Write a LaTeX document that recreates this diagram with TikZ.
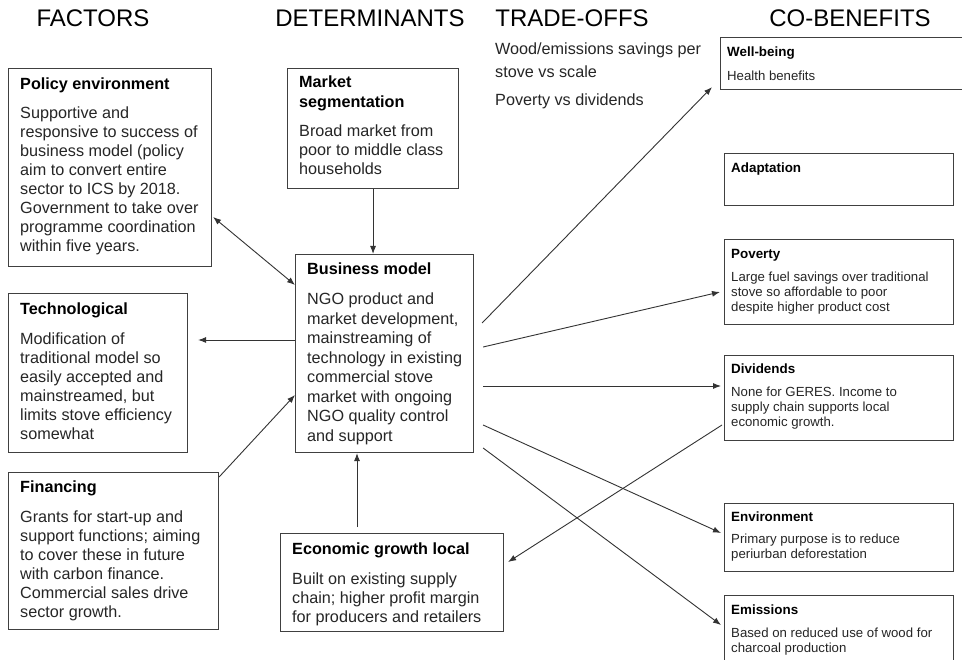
\documentclass[tikz,border=0pt]{standalone}
\usepackage{fontspec}
\setmainfont{Liberation Sans}
\usetikzlibrary{calc,arrows.meta}
\newcommand{\tlines}[1]{\begin{tabular}[t]{@{}l@{}}#1\end{tabular}}
\begin{document}
\begin{tikzpicture}[x=1pt,y=-1pt,
  boxL/.style={draw=black!75, line width=1.1pt, anchor=north west, inner sep=0pt},
  hdr/.style={anchor=base, inner sep=0pt, font=\fontsize{24}{28}\selectfont},
  ttlL/.style={anchor=base west, inner sep=0pt, font=\fontsize{16.2}{20}\selectfont\bfseries},
  bodyL/.style={anchor=base west, inner sep=0pt, font=\fontsize{16.2}{19}\selectfont, text=black!85},
  ttlR/.style={anchor=base west, inner sep=0pt, font=\fontsize{13.4}{15}\selectfont\bfseries},
  bodyR/.style={anchor=base west, inner sep=0pt, font=\fontsize{13.2}{15}\selectfont, text=black!85},
  arr/.style={draw=black!80, line width=0.9pt, -{Latex[length=8pt,width=6pt]}},
  darr/.style={draw=black!80, line width=0.9pt, {Latex[length=8pt,width=6pt]}-{Latex[length=8pt,width=6pt]}}
]
\useasboundingbox (0,0) rectangle (962,660);
\fill[white] (0,0) rectangle (962,660);

% headers
\node[hdr] (hF) at (93,27) {FACTORS};
\node[hdr] (hD) at (370,27) {DETERMINANTS};
\node[hdr] (hT) at (572,27) {TRADE-OFFS};
\node[hdr] (hC) at (850,27) {CO-BENEFITS};

% trade-offs text
\node[anchor=base west, inner sep=0pt, font=\fontsize{16.2}{23}\selectfont, text=black!85] (to1) at (495,55) {\tlines{Wood/emissions savings per\\stove vs scale}};
\node[anchor=base west, inner sep=0pt, font=\fontsize{16.2}{23}\selectfont, text=black!85] (to2) at (495,106) {Poverty vs dividends};

% left boxes
\node[boxL, minimum width=203pt, minimum height=198pt] (pol) at (8,68) {};
\node[ttlL] (polT) at (20,90) {Policy environment};
\node[bodyL] (polB) at (20,119) {\tlines{Supportive and\\responsive to success of\\business model (policy\\aim to convert entire\\sector to ICS by 2018.\\Government to take over\\programme coordination\\within five years.}};

\node[boxL, minimum width=179pt, minimum height=159pt] (tech) at (8,293) {};
\node[ttlL] (techT) at (20,315) {Technological};
\node[bodyL] (techB) at (20,345) {\tlines{Modification of\\traditional model so\\easily accepted and\\mainstreamed, but\\limits stove efficiency\\somewhat}};

\node[boxL, minimum width=210pt, minimum height=157pt] (fin) at (8,472) {};
\node[ttlL] (finT) at (20,493) {Financing};
\node[bodyL] (finB) at (20,522) {\tlines{Grants for start-up and\\support functions; aiming\\to cover these in future\\with carbon finance.\\Commercial sales drive\\sector growth.}};

% determinants
\node[boxL, minimum width=171pt, minimum height=120pt] (ms) at (287,68) {};
\node[ttlL] (msT) at (299,88) {\tlines{Market\\segmentation}};
\node[bodyL] (msB) at (299,137) {\tlines{Broad market from\\poor to middle class\\households}};

\node[boxL, minimum width=178pt, minimum height=198pt] (bm) at (295,254) {};
\node[ttlL] (bmT) at (307,275) {Business model};
\node[bodyL, font=\fontsize{16.2}{19.5}\selectfont] (bmB) at (307,305) {\tlines{NGO product and\\market development,\\mainstreaming of\\technology in existing\\commercial stove\\market with ongoing\\NGO quality control\\and support}};

\node[boxL, minimum width=223pt, minimum height=98pt] (econ) at (280,533) {};
\node[ttlL] (econT) at (292,554) {Economic growth local};
\node[bodyL] (econB) at (292,584) {\tlines{Built on existing supply\\chain; higher profit margin\\for producers and retailers}};

% co-benefits
\node[boxL, minimum width=246pt, minimum height=52pt] (wb) at (720,37) {};
\node[ttlR] (wbT) at (727,57) {Well-being};
\node[bodyR] (wbB) at (727,81) {Health benefits};

\node[boxL, minimum width=229pt, minimum height=52pt] (ad) at (724,153) {};
\node[ttlR] (adT) at (731,173) {Adaptation};

\node[boxL, minimum width=229pt, minimum height=85pt] (pov) at (724,239) {};
\node[ttlR] (povT) at (731,259) {Poverty};
\node[bodyR] (povB) at (731,282) {\tlines{Large fuel savings over traditional\\stove so affordable to poor\\despite higher product cost}};

\node[boxL, minimum width=229pt, minimum height=85pt] (div) at (724,355) {};
\node[ttlR] (divT) at (731,374) {Dividends};
\node[bodyR] (divB) at (731,397) {\tlines{None for GERES. Income to\\supply chain supports local\\economic growth.}};

\node[boxL, minimum width=229pt, minimum height=68pt] (env) at (724,503) {};
\node[ttlR] (envT) at (731,521) {Environment};
\node[bodyR] (envB) at (731,543) {\tlines{Primary purpose is to reduce\\periurban deforestation}};

\node[boxL, minimum width=229pt, minimum height=75pt] (emi) at (724,595) {};
\node[ttlR] (emiT) at (731,614) {Emissions};
\node[bodyR] (emiB) at (731,637) {\tlines{Based on reduced use of wood for\\charcoal production}};

% connectors
\coordinate (e1) at ($(econ.north west)+(77,-6)$);
\draw[arr] (ms.south) -- (ms.south |- bm.north);
\draw[darr] ($(pol.north east)+(1,149)$) -- ($(bm.north west)+(0,31)$);
\draw[arr] ($(bm.north west)+(0,86)$) -- ($(tech.north east)+(10,47)$);
\draw[arr] ($(fin.north east)+(0,5)$) -- ($(bm.north west)+(0,141)$);
\draw[arr] (e1) -- (e1 |- bm.south);
\draw[arr] ($(bm.north east)+(8,69)$) -- ($(wb.south west)+(-8,-3)$);
\draw[arr] ($(bm.north east)+(9,93)$) -- ($(pov.north west)+(-4,53)$);
\draw[arr] ($(bm.north east)+(9,132)$) -- ($(div.north west)+(-3,31)$);
\draw[arr] ($(div.north west)+(-2,70)$) -- ($(econ.north east)+(4,29)$);
\draw[arr] ($(bm.north east)+(9,171)$) -- ($(env.north west)+(-3,30)$);
\draw[arr] ($(bm.north east)+(9,194)$) -- ($(emi.north west)+(-3,30)$);
\end{tikzpicture}
\end{document}
